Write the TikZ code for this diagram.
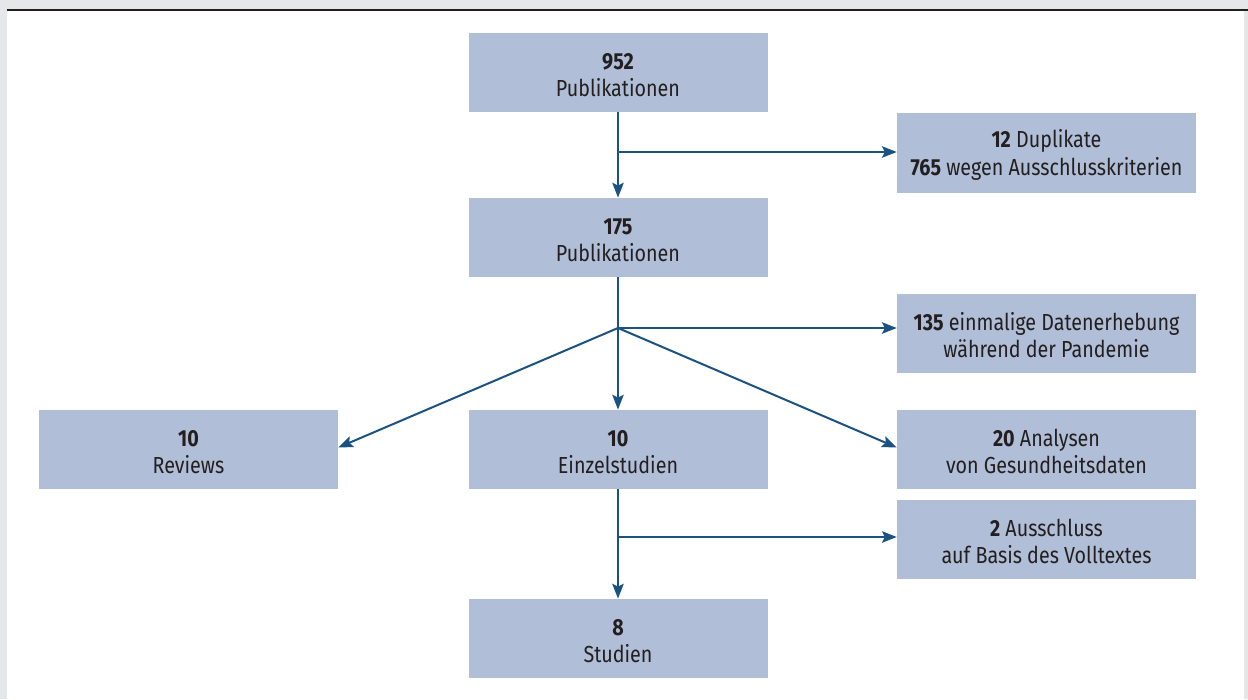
\documentclass[tikz,border=0pt]{standalone}
\usepackage{fontspec}
\setmainfont{Fira Sans}[FakeStretch=0.85]
\usetikzlibrary{arrows.meta}
\definecolor{bggray}{HTML}{E6E7E9}
\definecolor{boxfill}{RGB}{176,191,215}
\definecolor{arrowblue}{RGB}{26,82,130}
\definecolor{txt}{HTML}{231F20}
\newcommand{\topstrut}{\rule{0pt}{16.5pt}}
\tikzset{
  box/.style={fill=boxfill, minimum width=224.25pt, minimum height=59.5pt, inner sep=0pt,
    align=center, text=txt, font=\fontsize{17.4pt}{20.3pt}\selectfont},
  conn/.style={draw=arrowblue, line width=1.5pt},
  arr/.style={conn, -{Stealth[length=11pt,width=8.5pt,inset=2pt]}}
}
\begin{document}
\begin{tikzpicture}[x=0.75pt,y=-0.75pt]
\useasboundingbox (0,0) rectangle (1248,699);
\fill[bggray] (0,0) rectangle (1248,699);
\fill[white] (7,10) rectangle (1244,699);
\draw[txt, line width=1.5pt] (7,10) -- (1248,10);

\node[box] (p952) at (618,72.5) {\topstrut\textbf{952}\\Publikationen};
\node[box] (dup) at (1046.5,153) {\topstrut\textbf{12} Duplikate\\\textbf{765} wegen Ausschlusskriterien};
\node[box] (p175) at (618,237.5) {\topstrut\textbf{175}\\Publikationen};
\node[box] (b135) at (1046.5,333.5) {\topstrut\textbf{135} einmalige Datenerhebung\\während der Pandemie};
\node[box] (rev) at (188.5,449.5) {\topstrut\textbf{10}\\Reviews};
\node[box] (ein) at (618,449.5) {\topstrut\textbf{10}\\Einzelstudien};
\node[box] (b20) at (1046.5,449.5) {\topstrut\textbf{20} Analysen\\von Gesundheitsdaten};
\node[box] (b2) at (1046.5,539.5) {\topstrut\textbf{2} Ausschluss\\auf Basis des Volltextes};
\node[box] (b8) at (618,638.5) {\topstrut\textbf{8}\\Studien};

\coordinate (j1) at (618,152);
\coordinate (j2) at (618,328);
\coordinate (j3) at (618,537);

\draw[arr] (p952.south) -- (p175.north);
\draw[arr] (j1) -- (j1 -| dup.west);
\draw[conn] (p175.south) -- (j2);
\draw[arr] (j2) -- (ein.north);
\draw[arr] (j2) -- (j2 -| b135.west);
\draw[arr] (j2) -- ([yshift=1.5pt]rev.east);
\draw[arr] (j2) -- ([yshift=1.5pt]b20.west);
\draw[arr] (ein.south) -- (b8.north);
\draw[arr] (j3) -- (j3 -| b2.west);
\end{tikzpicture}
\end{document}
